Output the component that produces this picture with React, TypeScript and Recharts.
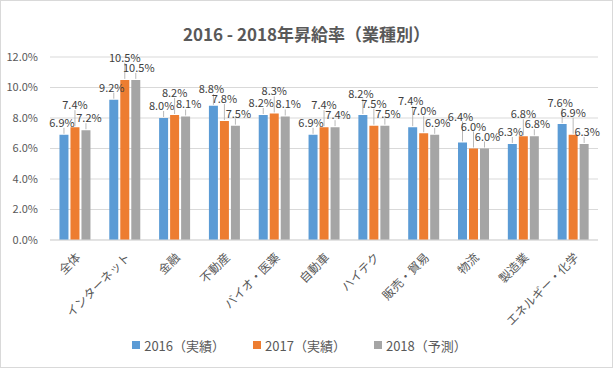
import { Bar, BarChart, CartesianGrid, LabelList, Legend, XAxis, YAxis } from 'recharts';

const categories = ['全体', 'インターネット', '金融', '不動産', 'バイオ・医薬', '自動車', 'ハイテク', '販売・貿易', '物流', '製造業', 'エネルギー・化学'];
const y2016 = [6.9, 9.2, 8.0, 8.8, 8.2, 6.9, 8.2, 7.4, 6.4, 6.3, 7.6];
const y2017 = [7.4, 10.5, 8.2, 7.8, 8.3, 7.4, 7.5, 7.0, 6.0, 6.8, 6.9];
const y2018 = [7.2, 10.5, 8.1, 7.5, 8.1, 7.4, 7.5, 6.9, 6.0, 6.8, 6.3];
const yTicks = [0, 2, 4, 6, 8, 10, 12];

const seriesNames = ['2016（実績）', '2017（実績）', '2018（予測）'];
const seriesValues = [y2016, y2017, y2018];
const colors = ['#5B9BD5', '#ED7D31', '#A5A5A5'];

const data = categories.map((name, i) => ({
    name,
    a: y2016[i],
    b: y2017[i],
    c: y2018[i],
}));

const FONT = '"Noto Sans CJK JP", "Noto Sans", sans-serif';
const pct = (v: any) => `${Number(v).toFixed(1)}%`;

// rough imitation of Excel's label shuffling: orange goes up, blue dodges it
const labelCenters = (index: number, top: number, value: number, pxPerUnit: number) => {
    const base = top + value * pxPerUnit;
    const tops = seriesValues.map(s => base - s[index] * pxPerUnit);
    const orange = tops[1] - 23;
    const gray = tops[2] - 13;
    let blue = tops[0] - 13;
    if (Math.abs(blue - orange) < 10) blue = orange - 10;
    return { tops, ys: [blue, orange, gray] };
};

const labelDx = [-2, 0, 3];

const makeLabel = (series: number) => (props: any) => {
    const { x, y, width, height, value, index } = props;
    if (!value) return null;
    const { tops, ys } = labelCenters(index, y, value, height / value);
    const cx = x + width / 2;
    const ly = ys[series];
    const showLeader = ly + 6 < tops[series] - 3;
    return (
        <g>
            {showLeader && (
                <line x1={cx} y1={tops[series] - 1} x2={cx} y2={ly + 6} stroke="#A6A6A6" strokeWidth={0.8} />
            )}
            <text
                x={cx + labelDx[series]}
                y={ly}
                textAnchor="middle"
                dominantBaseline="central"
                fontSize={11}
                fill="#404040"
                fontFamily={FONT}
            >
                {pct(value)}
            </text>
        </g>
    );
};

const XTick = ({ x, y, payload }: any) => (
    <text
        x={x + 4}
        y={y + 8}
        transform={`rotate(-45, ${x + 4}, ${y + 8})`}
        textAnchor="end"
        dominantBaseline="middle"
        fontSize={12}
        fill="#595959"
        fontFamily={FONT}
    >
        {payload.value}
    </text>
);

const CustomLegend = () => (
    <div style={{ height: 20, display: 'flex', justifyContent: 'center', alignItems: 'center', fontFamily: FONT, fontSize: 13, color: '#595959' }}>
        {seriesNames.map((n, i) => (
            <div key={n} style={{ display: 'flex', alignItems: 'center', marginLeft: i ? 28 : 0 }}>
                <div style={{ width: 8, height: 8, background: colors[i], marginRight: 4 }} />
                <span>{n}</span>
            </div>
        ))}
    </div>
);

export default function App() {
    return (
        <div style={{ position: 'absolute', left: 0, top: 0, width: 613, height: 368, boxSizing: 'border-box', border: '1px solid #D9D9D9', background: '#fff' }}>
            <div style={{ position: 'absolute', top: 20, width: '100%', textAlign: 'center', fontFamily: FONT, fontWeight: 700, fontSize: 17, color: '#595959' }}>
                2016 - 2018年昇給率（業種別）
            </div>
            <BarChart
                width={611}
                height={366}
                data={data}
                margin={{ top: 56, right: 14, left: 0, bottom: 12 }}
                barCategoryGap="19%"
                barGap={2}
            >
                <CartesianGrid vertical={false} stroke="#D9D9D9" />
                <XAxis
                    dataKey="name"
                    interval={0}
                    height={95}
                    tick={<XTick />}
                    tickLine={false}
                    axisLine={{ stroke: '#D9D9D9' }}
                />
                <YAxis
                    width={49}
                    domain={[0, 12]}
                    ticks={yTicks}
                    tickFormatter={pct}
                    axisLine={false}
                    tickLine={false}
                    tick={{ fill: '#595959', fontSize: 11, fontFamily: FONT, dx: -4 }}
                />
                <Legend verticalAlign="bottom" content={<CustomLegend />} />
                {['a', 'b', 'c'].map((k, i) => (
                    <Bar key={k} dataKey={k} name={seriesNames[i]} fill={colors[i]} isAnimationActive={false}>
                        <LabelList dataKey={k} content={makeLabel(i)} />
                    </Bar>
                ))}
            </BarChart>
        </div>
    );
}
